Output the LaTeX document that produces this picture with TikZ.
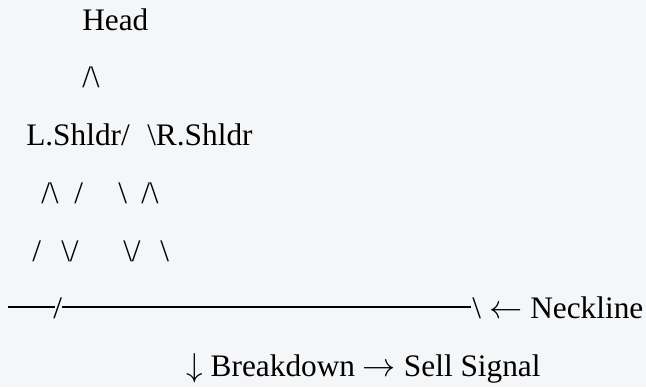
\documentclass[tikz,border=0pt]{standalone}
\usepackage{fontspec}
\setmainfont{Liberation Serif}
\newcommand{\bs}{\textbackslash}
\definecolor{paper}{RGB}{245,246,248}
\begin{document}
\begin{tikzpicture}[x=0.75pt, y=-0.75pt,
  art/.style={anchor=base west, inner sep=0pt, font=\fontsize{23.5}{28}\selectfont}]
\fill[paper] (0,0) rectangle (646,387);
\useasboundingbox (0,0) rectangle (646,387);

\node[art] (head) at (82,30) {Head};
\node[art] (peak) at (82,87) {/\bs};
\node[art] (lshldr) at (26,145) {L.Shldr/};
\node[art] (rshldr) at (147,145) {\bs R.Shldr};

\foreach \x/\y/\t [count=\i] in {41/203/{/\bs},74/203/{/},118/203/{\bs},141/203/{/\bs},
    32/261/{/},61/261/{\bs/},123/261/{\bs/},160/261/{\bs}}
{
    \node[art] (leg\i) at (\x,\y) {\t};
}

% neckline
\coordinate (nlA) at (8,307);
\coordinate (nlB) at (55,307);
\coordinate (nlC) at (62,307);
\coordinate (nlD) at (471,307);
\draw[line width=1.5pt] (nlA)--(nlB) (nlC)--(nlD);
\node[art] (cut) at (53,318) {/};
\node[art] (end) at (472,318) {\bs};
\node[art] (neck) at (489,318) {$\leftarrow$ Neckline};

\node[art] (signal) at (186,376) {$\downarrow$ Breakdown $\rightarrow$ Sell Signal};
\end{tikzpicture}
\end{document}
